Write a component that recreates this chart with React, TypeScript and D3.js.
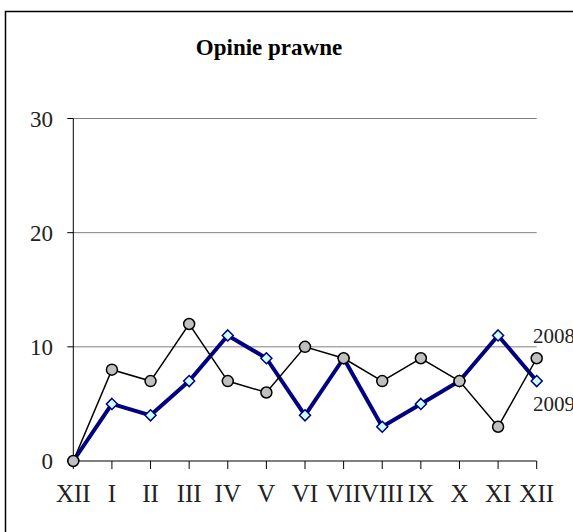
import React from "react";
import * as d3 from "d3";

const months = ["XII", "I", "II", "III", "IV", "V", "VI", "VII", "VIII", "IX", "X", "XI", "XII"];
const values2008 = [0, 8, 7, 12, 7, 6, 10, 9, 7, 9, 7, 3, 9];
const values2009 = [0, 5, 4, 7, 11, 9, 4, 9, 3, 5, 7, 11, 7];
const yTicks = [0, 10, 20, 30];

const W = 573;
const H = 532;
const FONT = "'Liberation Serif', 'Times New Roman', serif";

export default function App() {
    const idx = months.map((_, i) => i);
    const x = d3.scaleLinear().domain([0, months.length - 1]).range([73.3, 536.7]);
    const y = d3.scaleLinear().domain([0, 30]).range([461, 118.5]);

    const line = d3
        .line<number>()
        .x((_, i) => x(i))
        .y((d) => y(d));

    const diamond = (cx: number, cy: number, r: number) =>
        `M${cx},${cy - r}L${cx + r},${cy}L${cx},${cy + r}L${cx - r},${cy}Z`;

    return (
        <svg
            width={W}
            height={H}
            style={{ position: "absolute", left: 0, top: 0, display: "block", background: "#fff" }}
        >
            {/* outer frame, runs past the picture on the right and bottom */}
            <rect x={5.5} y={11.5} width={700} height={700} fill="none" stroke="#000" strokeWidth={1.5} />

            <text x={269} y={55} textAnchor="middle" fontFamily={FONT} fontSize={23} fontWeight="bold" fill="#000">
                Opinie prawne
            </text>

            {/* gridlines */}
            {yTicks.filter((t) => t > 0).map((t) => (
                <line key={t} x1={x(0)} x2={x(months.length - 1)} y1={y(t)} y2={y(t)} stroke="#808080" strokeWidth={1} />
            ))}

            {/* y axis */}
            <line x1={x(0)} x2={x(0)} y1={y(30)} y2={y(0)} stroke="#000" strokeWidth={1} />
            {yTicks.map((t) => (
                <g key={t}>
                    <line x1={x(0) - 6} x2={x(0)} y1={y(t)} y2={y(t)} stroke="#000" strokeWidth={1} />
                    <text
                        x={53}
                        y={y(t)}
                        dy="0.35em"
                        textAnchor="end"
                        fontFamily={FONT}
                        fontSize={23}
                        fill="#222"
                    >
                        {t}
                    </text>
                </g>
            ))}

            {/* x axis */}
            <line x1={x(0)} x2={x(months.length - 1)} y1={y(0)} y2={y(0)} stroke="#000" strokeWidth={1} />
            {idx.map((i) => (
                <g key={i}>
                    <line x1={x(i)} x2={x(i)} y1={y(0)} y2={y(0) + 8} stroke="#000" strokeWidth={1} />
                    <text x={x(i)} y={502} textAnchor="middle" fontFamily={FONT} fontSize={25} fill="#222">
                        {months[i]}
                    </text>
                </g>
            ))}

            {/* 2009 series */}
            <path d={line(values2009) || ""} fill="none" stroke="#000080" strokeWidth={4} strokeLinejoin="round" />
            {values2009.map((v, i) => (
                <path key={i} d={diamond(x(i), y(v), 5.5)} fill="#ccffff" stroke="#000080" strokeWidth={1.5} />
            ))}

            {/* 2008 series */}
            <path d={line(values2008) || ""} fill="none" stroke="#000" strokeWidth={1.5} />
            {values2008.map((v, i) => (
                <circle key={i} cx={x(i)} cy={y(v)} r={5.5} fill="#c0c0c0" stroke="#000" strokeWidth={1.5} />
            ))}

            <text x={533} y={343} fontFamily={FONT} fontSize={21} fill="#222">2008</text>
            <text x={533} y={411} fontFamily={FONT} fontSize={21} fill="#222">2009</text>
        </svg>
    );
}
